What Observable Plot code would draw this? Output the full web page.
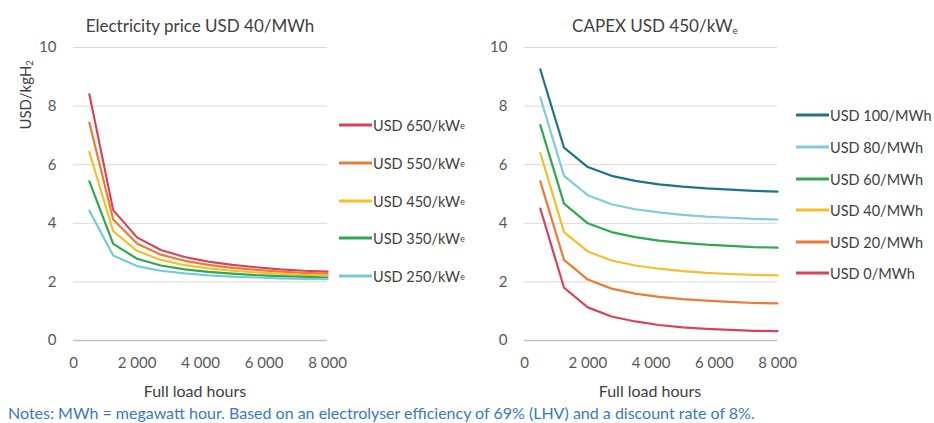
<!DOCTYPE html>
<html>
<head>
<meta charset="utf-8">
<script src="https://cdn.jsdelivr.net/npm/d3@7"></script>
<script src="https://cdn.jsdelivr.net/npm/@observablehq/plot@0.6"></script>
<style>
  html, body { margin: 0; padding: 0; background: #fff; }
  #root { position: relative; width: 934px; height: 423px; font-family: Lato, "Open Sans", sans-serif; color: #404040; overflow: hidden; }
  .abs { position: absolute; white-space: nowrap; }
  .title { font-size: 17px; color: #404040; transform: translate(-50%, -50%); }
  .axlab { font-size: 16px; color: #404040; transform: translate(-50%, -50%); }
  .ylab { font-size: 15px; color: #404040; transform: translate(-50%, -50%) rotate(-90deg); }
  .leg { font-size: 14.5px; color: #404040; transform: translateY(-50%); display: flex; align-items: center; }
  .leg .sw { display: inline-block; width: 33px; height: 2.5px; margin-right: 1px; }
  .notes { font-size: 16px; color: #3b78bf; transform: translateY(-50%); }
  sub { font-size: 0.6em; vertical-align: -0.25em; line-height: 0; }
  .plot { position: absolute; top: 0; overflow: visible; }
</style>
</head>
<body>
<div id="root"></div>
<script>
// ---------- data ----------
const hours = [500, 1250, 2000, 2750, 3500, 4250, 5000, 5750, 6500, 7250, 8000];

// Left panel: electricity price USD 40/MWh, varying CAPEX
const leftSeries = ["USD 650/kW", "USD 550/kW", "USD 450/kW", "USD 350/kW", "USD 250/kW"];
const capex650 = [8.40, 4.45, 3.52, 3.09, 2.85, 2.69, 2.58, 2.50, 2.43, 2.38, 2.35];
const capex550 = [7.43, 4.13, 3.31, 2.93, 2.72, 2.58, 2.48, 2.41, 2.35, 2.31, 2.28];
const capex450 = [6.43, 3.73, 3.06, 2.75, 2.57, 2.46, 2.38, 2.32, 2.28, 2.24, 2.22];
const capex350 = [5.43, 3.30, 2.79, 2.56, 2.43, 2.34, 2.28, 2.23, 2.20, 2.17, 2.15];
const capex250 = [4.43, 2.90, 2.54, 2.38, 2.29, 2.22, 2.18, 2.15, 2.12, 2.10, 2.09];
const leftValues = [capex650, capex550, capex450, capex350, capex250];
const leftColors = ["#d8435c", "#ec7b35", "#f4bf2a", "#2fa84f", "#78c9dd"];

// Right panel: CAPEX USD 450/kWe, varying electricity price
const rightSeries = ["USD 100/MWh", "USD 80/MWh", "USD 60/MWh", "USD 40/MWh", "USD 20/MWh", "USD 0/MWh"];
const elec100 = [9.25, 6.58, 5.92, 5.62, 5.45, 5.33, 5.25, 5.19, 5.15, 5.11, 5.08];
const elec80  = [8.30, 5.62, 4.96, 4.65, 4.48, 4.37, 4.29, 4.23, 4.19, 4.15, 4.13];
const elec60  = [7.35, 4.67, 4.00, 3.70, 3.53, 3.41, 3.33, 3.27, 3.23, 3.19, 3.17];
const elec40  = [6.40, 3.70, 3.04, 2.73, 2.56, 2.45, 2.37, 2.31, 2.27, 2.24, 2.22];
const elec20  = [5.43, 2.75, 2.08, 1.77, 1.60, 1.49, 1.41, 1.36, 1.32, 1.28, 1.27];
const elec0   = [4.50, 1.80, 1.13, 0.82, 0.65, 0.53, 0.45, 0.40, 0.36, 0.33, 0.32];
const rightValues = [elec100, elec80, elec60, elec40, elec20, elec0];
const rightColors = ["#1d7387", "#7fcbe0", "#2fa84f", "#f4bf2a", "#ec7b35", "#d8435c"];

const xTicks = [0, 2000, 4000, 6000, 8000];
const yTicks = [0, 2, 4, 6, 8, 10];

// ---------- helpers ----------
const fmtX = d => d3.format(",")(d).replace(/,/g, " ");
function tidy(series, values) {
  const out = [];
  series.forEach((s, i) => values[i].forEach((v, j) => out.push({series: s, hours: hours[j], value: v})));
  return out;
}

function panel(series, values, colors, marginLeft) {
  const data = tidy(series, values);
  return Plot.plot({
    width: 360, height: 380,
    marginLeft, marginRight: 33, marginTop: 47, marginBottom: 40,
    style: {fontFamily: "Lato, 'Open Sans', sans-serif", fontSize: "15px", color: "#595959", background: "transparent"},
    x: {domain: [0, 8000]},
    y: {domain: [0, 10]},
    color: {type: "ordinal", domain: series, range: colors},
    marks: [
      Plot.gridY(yTicks.filter(d => d > 0), {stroke: "#d9d9d9", strokeOpacity: 1, strokeWidth: 1}),
      Plot.ruleY([0], {stroke: "#bfbfbf", strokeWidth: 1.5}),
      Plot.axisY({ticks: yTicks, tickSize: 0, tickPadding: 17, label: null}),
      Plot.axisX({ticks: xTicks, tickSize: 0, tickPadding: 17, tickFormat: fmtX, label: null}),
      Plot.lineY(data, {x: "hours", y: "value", stroke: "series", strokeWidth: 2.2, strokeLinejoin: "round"})
    ]
  });
}

// ---------- layout ----------
const root = document.getElementById("root");
function addDiv(cls, html, left, top) {
  const d = document.createElement("div");
  d.className = "abs " + cls;
  d.innerHTML = html;
  d.style.left = left + "px";
  d.style.top = top + "px";
  root.appendChild(d);
  return d;
}

const p1 = panel(leftSeries, leftValues, leftColors, 73);
p1.classList.add("plot"); p1.style.left = "0px";
root.appendChild(p1);
const p2 = panel(rightSeries, rightValues, rightColors, 74);
p2.classList.add("plot"); p2.style.left = "450px";
root.appendChild(p2);

addDiv("title", "Electricity price USD 40/MWh", 200, 25);
addDiv("title", "CAPEX USD 450/kW<sub>e</sub>", 655, 25);
addDiv("ylab", "USD/kgH<sub>2</sub>", 25, 95);
addDiv("axlab", "Full load hours", 195, 390);
addDiv("axlab", "Full load hours", 650, 390);

const leftLegY = [125, 163, 201, 238, 276];
leftSeries.forEach((s, i) => {
  addDiv("leg", `<span class="sw" style="background:${leftColors[i]}"></span>${s}<sub>e</sub>`, 339, leftLegY[i]);
});
const rightLegY = [115, 147, 179, 210, 242, 273];
rightSeries.forEach((s, i) => {
  addDiv("leg", `<span class="sw" style="background:${rightColors[i]}"></span>${s}`, 796, rightLegY[i]);
});

addDiv("notes", "Notes: MWh = megawatt hour. Based on an electrolyser efficiency of 69% (LHV) and a discount rate of 8%.", 8, 412);
</script>
</body>
</html>
